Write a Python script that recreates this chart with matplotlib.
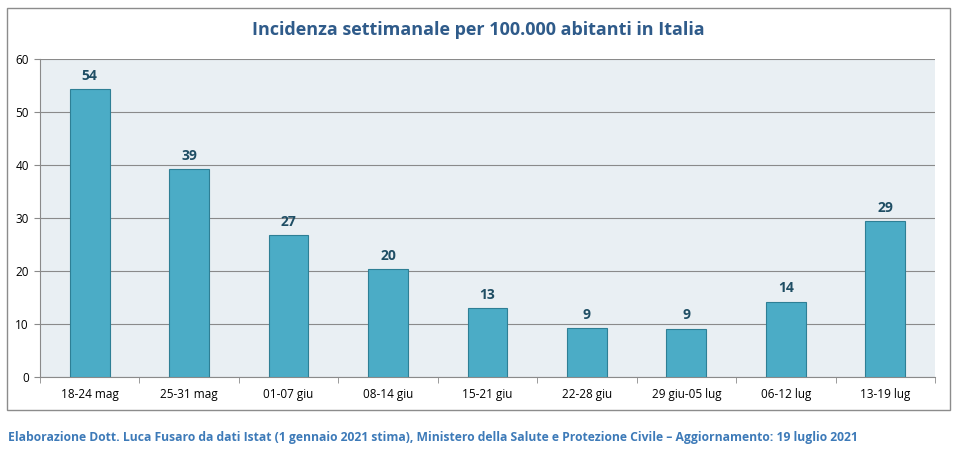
import numpy as np
import matplotlib.pyplot as plt
from matplotlib.patches import Rectangle

settimane = ["18-24 mag", "25-31 mag", "01-07 giu", "08-14 giu", "15-21 giu",
             "22-28 giu", "29 giu-05 lug", "06-12 lug", "13-19 lug"]
incidenza = [54.3, 39.2, 26.8, 20.4, 13.0, 9.2, 9.1, 14.2, 29.4]
yticks = [0, 10, 20, 30, 40, 50, 60]

titolo = "Incidenza settimanale per 100.000 abitanti in Italia"
nota = ("Elaborazione Dott. Luca Fusaro da dati Istat (1 gennaio 2021 stima), "
        "Ministero della Salute e Protezione Civile \u2013 Aggiornamento: 19 luglio 2021")

plt.rcParams['font.family'] = ['Open Sans', 'DejaVu Sans']

fig = plt.figure(figsize=(9.6, 4.53), dpi=100)
fig.patch.set_facecolor("white")

# outer chart frame
fig.patches.append(Rectangle((7/960, 1 - 410/453), 943/960, 402/453,
                             transform=fig.transFigure, fill=False,
                             edgecolor="#8c8c8c", linewidth=1.0))

ax = fig.add_axes([40/960, 1 - 377/453, 895/960, 318/453])
ax.set_facecolor("#e9eff3")

x = np.arange(len(settimane))
ax.bar(x, incidenza, width=0.4, color="#4bacc6", edgecolor="#2e7f95",
       linewidth=0.8, zorder=3)
for xi, v in zip(x, incidenza):
    ax.text(xi, v + 1.2, f"{round(v)}", ha="center", va="bottom",
            fontsize=10, fontweight="bold", color="#1f4e64")

ax.set_xlim(-0.5, len(settimane) - 0.5)
ax.set_ylim(0, 60)
ax.set_yticks(yticks)
ax.yaxis.grid(True, color="#8a8a8a", linewidth=0.8, zorder=0)
ax.set_axisbelow(True)
ax.tick_params(axis="y", labelsize=8.5, length=4, color="#8a8a8a", pad=4)

ax.set_xticks(x)
ax.set_xticklabels(settimane, fontsize=8.5)
ax.set_xticks(np.arange(-0.5, len(settimane)), minor=True)
ax.tick_params(axis="x", which="major", length=0, pad=8)
ax.tick_params(axis="x", which="minor", length=4, color="#8a8a8a")

for s in ["top", "right"]:
    ax.spines[s].set_visible(False)
ax.spines["left"].set_color("#8a8a8a")
ax.spines["bottom"].set_color("#8a8a8a")

fig.text(478/960, 1 - 30/453, titolo, ha="center", va="center", fontsize=13,
         fontweight="bold", color="#2f5b8a")
fig.text(8/960, 1 - 437/453, nota, ha="left", va="center", fontsize=8.75,
         fontweight="bold", color="#3d7ab8")

fig.savefig("out.png", dpi=100)
